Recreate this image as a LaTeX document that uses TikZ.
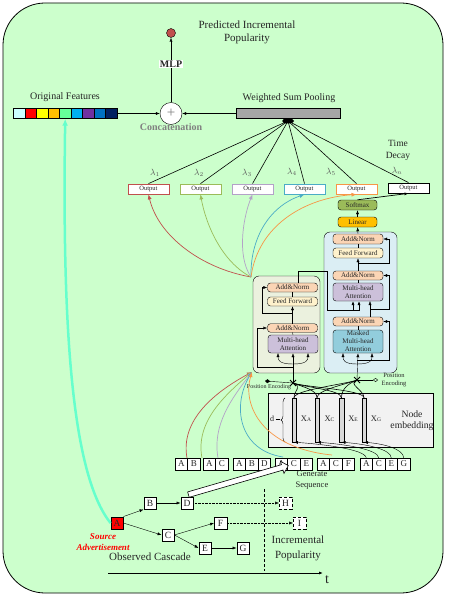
\documentclass[tikz,border=0pt]{standalone}
\usepackage{fontspec}
\setmainfont{Liberation Serif}
\usetikzlibrary{arrows.meta,shapes.arrows,shapes.geometric,decorations.pathreplacing,calc}
\definecolor{bgg}{HTML}{CCFFCC}
\definecolor{txt}{HTML}{262626}
\definecolor{c1}{HTML}{C0504D}
\definecolor{c2}{HTML}{9BBB59}
\definecolor{c3}{HTML}{B3A2C7}
\definecolor{c4}{HTML}{4BACC6}
\definecolor{c5}{HTML}{F79646}
\definecolor{fc1}{HTML}{CCFFFF}
\definecolor{fc2}{HTML}{FF0000}
\definecolor{fc3}{HTML}{FFFF00}
\definecolor{fc4}{HTML}{FFC000}
\definecolor{fc5}{HTML}{66FF99}
\definecolor{fc6}{HTML}{00B0F0}
\definecolor{fc7}{HTML}{7030A0}
\definecolor{fc8}{HTML}{0070C0}
\definecolor{fc9}{HTML}{002060}
\definecolor{aqua}{HTML}{66FFCC}
\definecolor{encc}{HTML}{EBF1DE}
\definecolor{decc}{HTML}{DBEEF4}
\definecolor{embc}{HTML}{F2F2F2}
\definecolor{addc}{HTML}{FBD5B5}
\definecolor{ffc}{HTML}{FFF2CC}
\definecolor{mhac}{HTML}{CCC0DA}
\definecolor{mmhac}{HTML}{92CDDC}
\definecolor{linc}{HTML}{FFC000}
\definecolor{softc}{HTML}{9BBB59}
\definecolor{lamc}{HTML}{595959}
\begin{document}
\begin{tikzpicture}[x=1pt,y=-1pt,
  every node/.style={text=txt},
  arr/.style={-{Latex[length=4pt,width=3pt]}},
  carr/.style={-{Latex[length=5pt,width=4pt]}, line width=0.7pt},
  blk/.style={draw, rounded corners=3pt, minimum width=50pt, inner sep=0pt, align=center, font=\fontsize{7}{8}\selectfont},
  addn/.style={blk, fill=addc, minimum height=9pt},
  outbox/.style={draw, fill=white, minimum width=41pt, minimum height=10pt, inner sep=0pt, font=\fontsize{6.5}{7}\selectfont, line width=0.8pt},
  sq/.style={draw, fill=white, minimum width=12.5pt, minimum height=12pt, inner sep=0pt, font=\fontsize{9}{10}\selectfont},
  cas/.style={draw, fill=white, minimum width=12.5pt, minimum height=12.5pt, inner sep=0pt, font=\fontsize{9.5}{10}\selectfont},
  bar/.style={draw, fill=gray!30, minimum width=4.5pt, minimum height=44pt, inner sep=0pt},
  cell/.style={draw, minimum width=11.56pt, minimum height=10pt, inner sep=0pt, anchor=west}
]
\useasboundingbox (0,0) rectangle (448,596);
\fill[white] (0,0) rectangle (448,596);
\draw[fill=bgg, line width=0.8pt, rounded corners=42pt] (3,3) rectangle (443,593);

% ---------- top ----------
\node[circle, draw, fill=c1, minimum size=9pt, inner sep=0pt] (pred) at (171,33) {};
\node[font=\fontsize{11}{13}\selectfont, align=center] (ptitle) at (247,32.5) {Predicted Incremental\\Popularity};
\node[circle, draw, fill=white, minimum size=22pt, inner sep=0pt, font=\fontsize{15}{15}\selectfont, text=gray] (cat) at (171,113.5) {+};
\draw[arr] (cat.north) -- (pred.south);
\node[fill=white, font=\bfseries\fontsize{10}{11}\selectfont, inner sep=1pt] (mlp) at (171,64) {MLP};
\node[font=\bfseries\fontsize{10}{11}\selectfont, text=gray] (concat) at (171,127) {Concatenation};

\node[font=\fontsize{10}{11}\selectfont] (oflabel) at (65,97) {Original Features};
\foreach \c [count=\i] in {fc1,fc2,fc3,fc4,fc5,fc6,fc7,fc8,fc9}
  \node[cell, fill=\c] (f\i) at ({13+11.56*(\i-1)},113.5) {};
\draw[arr] (f9.east) -- (cat.west);

\node[draw, fill=gray!70, minimum width=104pt, minimum height=10pt, inner sep=0pt] (pool) at (288,113.5) {};
\node[font=\fontsize{10}{11}\selectfont] (poollabel) at (289,98) {Weighted Sum Pooling};
\draw[arr] (pool.west) -- (cat.east);

\node[font=\fontsize{9.5}{12}\selectfont, align=center] (tdecay) at (398,150) {Time\\Decay};

% outputs
\node[outbox, draw=c1] (o1) at (148.5,189) {Output};
\node[outbox, draw=c2] (o2) at (200.5,189) {Output};
\node[outbox, draw=c3] (o3) at (252.5,189) {Output};
\node[outbox, draw=c4] (o4) at (304.5,189) {Output};
\node[outbox, draw=c5] (o5) at (356.5,189) {Output};
\node[outbox, draw=black] (o6) at (408.5,188) {Output};
\coordinate (bc) at (288,121);
\foreach \o in {o1,o2,o3,o4,o5,o6} \draw[line width=0.6pt] (bc) -- (\o.north);
\node[ellipse, fill=black, minimum width=12pt, minimum height=5pt, inner sep=0pt] (blob) at (288,121) {};

\node[text=lamc, font=\fontsize{9}{9}\selectfont] (l1) at (155,173) {$\lambda_1$};
\node[text=lamc, font=\fontsize{9}{9}\selectfont] (l2) at (199,173) {$\lambda_2$};
\node[text=lamc, font=\fontsize{9}{9}\selectfont] (l3) at (247,173) {$\lambda_3$};
\node[text=lamc, font=\fontsize{9}{9}\selectfont] (l4) at (292,172) {$\lambda_4$};
\node[text=lamc, font=\fontsize{9}{9}\selectfont] (l5) at (331,172) {$\lambda_5$};
\node[text=lamc, font=\fontsize{9}{9}\selectfont] (ln) at (397,171) {$\lambda_n$};

% ---------- encoder ----------
\node[draw, fill=encc, rounded corners=6pt, minimum width=67pt, minimum height=97pt, inner sep=0pt] (enc) at (286.5,324.5) {};
\node[addn] (ean1) at (292.5,287.5) {Add\&Norm};
\node[blk, fill=ffc, minimum height=9pt] (eff) at (292.5,301.5) {Feed Forward};
\node[addn, minimum height=8.5pt] (ean2) at (292.5,328) {Add\&Norm};
\node[blk, fill=mhac, minimum height=18pt] (emha) at (293,344) {Multi-head\\Attention};

% ---------- decoder ----------
\node[draw, fill=decc, rounded corners=6pt, minimum width=73pt, minimum height=141pt, inner sep=0pt] (dec) at (360.5,302.5) {};
\node[addn, minimum height=10pt] (dan1) at (358,239) {Add\&Norm};
\node[blk, fill=ffc, minimum height=10pt] (dff) at (358,253) {Feed Forward};
\node[addn] (dan2) at (358,275.5) {Add\&Norm};
\node[blk, fill=mhac, minimum height=18pt] (dmha) at (358,292) {Multi-head\\Attention};
\node[addn] (dan3) at (358,321.5) {Add\&Norm};
\node[blk, fill=mmhac, minimum height=23pt] (dmmha) at (358,341.5) {Masked\\Multi-head\\Attention};
\node[blk, fill=linc, minimum width=39pt, minimum height=10pt] (lin) at (357.5,222) {Linear};
\node[blk, fill=softc, minimum width=39pt, minimum height=10pt] (soft) at (357.5,205) {Softmax};

% position encodings
\coordinate (ex) at (293,383);
\coordinate (dx) at (357,380);
\draw[line width=0.8pt] ($(ex)+(-3,-3)$) -- ($(ex)+(3,3)$) ($(ex)+(-3,3)$) -- ($(ex)+(3,-3)$);
\draw[line width=0.8pt] ($(dx)+(-3,-3)$) -- ($(dx)+(3,3)$) ($(dx)+(-3,3)$) -- ($(dx)+(3,-3)$);
\coordinate (epe) at (265,381);
\coordinate (dpe) at (378,380);
\draw[-{Diamond[length=5pt,width=4pt]}] (ex) -- (epe);
\draw[-{Diamond[open,length=5pt,width=4pt]}] (dx) -- (dpe);
\node[font=\fontsize{6}{7}\selectfont] (epel) at (269,387.5) {Position Encoding};
\node[font=\fontsize{6.5}{8}\selectfont, align=center] (dpel) at (394,380.5) {Position\\Encoding};

% encoder flow
\draw[arr] (ex) -- (emha.south);
\draw[arr] (293,364) .. controls (279,364) and (278,360) .. (278,353);
\draw[arr] (293,364) .. controls (307,364) and (308,360) .. (308,353);
\draw[arr] (293,367) -- (257,367) -- (257,328) -- (ean2.west);
\draw (emha.north) -- (ean2.south);
\draw[arr] (ean2.north) -- (eff.south);
\draw[arr] (292.5,313) -- (262,313) -- (262,287.5) -- (ean1.west);
\draw (eff.north) -- (ean1.south);
\draw[arr, line width=0.7pt] (298,283) -- (298,271) -- (327,271) -- (327,310) -- (353,310) -- (353,301);
\draw[arr, line width=0.7pt] (353,310) -- (359,310) -- (359,301);

% decoder flow
\draw[arr] (dx) -- (dmmha.south);
\draw[arr] (357,364) .. controls (344,364) and (343,360) .. (343,353);
\draw[arr] (357,364) .. controls (371,364) and (372,360) .. (372,353);
\draw[arr] (357,360) -- (389,360) -- (389,321.5) -- (dan3.east);
\draw (dmmha.north) -- (dan3.south);
\draw[arr] (370,317) -- (370,301);
\draw[arr] (370,309) -- (389,309) -- (389,275.5) -- (dan2.east);
\draw (dmha.north) -- (dan2.south);
\draw[arr] (dan2.north) -- (dff.south);
\draw[arr] (358,263) -- (389,263) -- (389,239) -- (dan1.east);
\draw (dff.north) -- (dan1.south);
\draw[arr] (dan1.north) -- (lin.south);
\draw[arr] (lin.north) -- (soft.south);
\draw[arr, line width=0.7pt] (soft.north) -- (o6.south);

% colored curves to outputs
\coordinate (etl) at (251,277);
\draw[carr, c1] (etl) .. controls (200,268) and (158,235) .. (o1.south);
\draw[carr, c2] (etl) .. controls (222,262) and (206,225) .. (o2.south);
\draw[carr, c3] (etl) .. controls (236,255) and (244,215) .. (o3.south);
\draw[carr, c4] (etl) .. controls (250,240) and (268,207) .. (o4.south);
\draw[carr, c5] (etl) .. controls (258,225) and (305,198) .. (o5.south);

% ---------- node embedding ----------
\node[draw, fill=embc, minimum width=165pt, minimum height=54pt, inner sep=0pt] (emb) at (350.5,420) {};
\node[bar] (bar1) at (294,420) {};
\node[bar] (bar2) at (317,420) {};
\node[bar] (bar3) at (341.5,420) {};
\node[bar] (bar4) at (364,420) {};
\node[font=\fontsize{8.5}{9}\selectfont] (xa) at (306,419) {X{\fontsize{5.5}{6}\selectfont A}};
\node[font=\fontsize{8.5}{9}\selectfont] (xc) at (329.5,419) {X{\fontsize{5.5}{6}\selectfont C}};
\node[font=\fontsize{8.5}{9}\selectfont] (xe) at (353,419) {X{\fontsize{5.5}{6}\selectfont E}};
\node[font=\fontsize{8.5}{9}\selectfont] (xg) at (376,419) {X{\fontsize{5.5}{6}\selectfont G}};
\node[font=\fontsize{9.7}{11.5}\selectfont, align=center] (embl) at (412,420.5) {Node\\embedding};
\draw[decorate, decoration={brace, amplitude=4pt}] (285,442) -- (285,398);
\node[font=\fontsize{8}{9}\selectfont] (dl) at (272,419) {d};
\draw (275.5,419) -- (280,419);

% lines from bars to position encodings
\foreach \b in {bar1,bar2,bar3,bar4} {
  \draw[line width=0.6pt] (\b.north) .. controls ($(\b.north)+(0,-8)$) and ($(ex)+(10,4)$) .. (ex);
  \draw[line width=0.6pt] (\b.north) .. controls ($(\b.north)+(0,-8)$) and ($(dx)+(-10,4)$) .. (dx);
}

% ---------- sequences ----------
\foreach \x/\l/\n in {181.25/A/s1a, 193.75/B/s1b,
  209.25/A/s2a, 221.75/C/s2c,
  239.25/A/s3a, 251.75/B/s3b, 264.25/D/s3d,
  281.25/A/s4a, 293.75/C/s4c, 306.25/E/s4e,
  323.25/A/s5a, 335.75/C/s5c, 348.25/F/s5f,
  366.25/A/s6a, 378.75/C/s6c, 391.25/E/s6e, 403.75/G/s6g}
  \node[sq] (\n) at (\x,464) {\l};

\draw[arr] (s6a.north) .. controls (365,449) and (320,444) .. (bar1.south);
\draw[arr] (s6c.north) .. controls (378,449) and (342,444) .. (bar2.south);
\draw[arr] (s6e.north) .. controls (391,449) and (365,444) .. (bar3.south);
\draw[arr] (s6g.north) .. controls (403,449) and (385,444) .. (bar4.south);

% colored curves from sequences
\coordinate (ebl) at (252,372);
\draw[carr, c1] (187,458) .. controls (180,420) and (215,392) .. (ebl);
\draw[carr, c2] (202,458) .. controls (195,422) and (225,395) .. (ebl);
\draw[carr, c3] (218,458) .. controls (212,425) and (232,398) .. (ebl);
\draw[carr, c4] (283,457) .. controls (238,450) and (232,405) .. (ebl);
\draw[carr, c5] (332,455) .. controls (262,448) and (242,405) .. (ebl);

\node[font=\fontsize{8.5}{11}\selectfont, align=center] (genl) at (312,480.5) {Generate\\Sequence};

% ---------- cascade ----------
\node[cas, fill=red] (ca) at (117,523) {A};
\node[cas] (cb) at (150,503) {B};
\node[cas] (cd) at (187,503) {D};
\node[cas, densely dashed] (ch) at (285.5,503) {H};
\node[cas] (cc) at (168,535) {C};
\node[cas] (cf) at (220.5,523) {F};
\node[cas, densely dashed] (ci) at (299.5,523) {I};
\node[cas] (ce) at (205,548) {E};
\node[cas] (cg) at (243,548) {G};
\draw[arr] (ca.north east) -- (cb.south west);
\draw[arr] (cb.east) -- (cd.west);
\draw[arr] (ca.east) -- (cc.west);
\draw[arr] (cc.east) -- (cf.west);
\draw[arr] (cc.east) -- (ce.west);
\draw[arr] (ce.east) -- (cg.west);
\draw[arr, densely dotted] (cd.east) -- (ch.west);
\draw[arr, densely dotted] (cf.east) -- (ci.west);
\coordinate (vt) at (264,489);
\coordinate (vb) at (264,571);
\draw[densely dashed, line width=0.5pt] (vt) -- (vb);
\coordinate (t0) at (108,573);
\coordinate (t1) at (323,573);
\draw[arr, line width=0.8pt] (t0) -- (t1);
\node[font=\fontsize{14}{14}\selectfont] (tl) at (327,580) {t};
\node[text=red, font=\bfseries\itshape\fontsize{9}{11}\selectfont, align=center] (srcl) at (103,542.5) {Source\\Advertisement};
\node[font=\fontsize{11}{13}\selectfont] (obsl) at (150,557) {Observed Cascade};
\node[font=\fontsize{11}{15.5}\selectfont, align=center] (incl) at (298,548.5) {Incremental\\Popularity};

% big hollow arrow
\node[single arrow, draw, fill=white, minimum height=104pt, minimum width=12pt, single arrow head extend=3.5pt, inner sep=2.5pt, rotate=16.2, line width=0.6pt] (gen) at (237,480.5) {};

% aqua arrow
\draw[-{Latex[length=7pt,width=6pt]}, aqua, line width=2.5pt] (ca.west) .. controls (72,475) and (62,330) .. (f5.south);
\end{tikzpicture}
\end{document}
